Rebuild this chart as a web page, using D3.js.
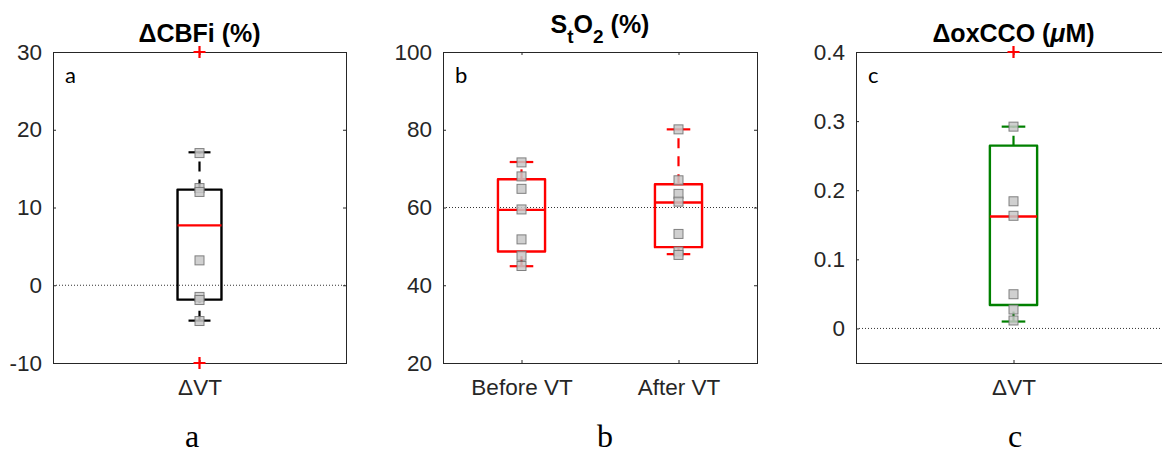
<!DOCTYPE html>
<html>
<head>
<meta charset="utf-8">
<script src="https://cdn.jsdelivr.net/npm/d3@7"></script>
<style>
  html, body { margin: 0; padding: 0; background: #fff; }
  svg { display: block; }
</style>
</head>
<body>
<svg id="chart" width="1162" height="456"></svg>
<script>
// ---------- DATA ----------
// Panel a: ΔCBFi (%)
const aCategories = ["ΔVT"];
const aQ1 = [-1.85];
const aMedian = [7.7];
const aQ3 = [12.3];
const aLowerWhisker = [-4.55];
const aUpperWhisker = [17.1];
const aOutliers = [[30, -10]];
const aPoints = [[17.0, 12.5, 12.0, 3.2, -1.5, -1.9, -4.6]];
const aTicks = [-10, 0, 10, 20, 30];
const aTickLabels = ["-10", "0", "10", "20", "30"];

// Panel b: StO2 (%)
const bCategories = ["Before VT", "After VT"];
const bQ1 = [48.7, 49.8];
const bMedian = [59.4, 61.3];
const bQ3 = [67.25, 66.0];
const bLowerWhisker = [44.9, 48.0];
const bUpperWhisker = [71.7, 80.1];
const bOutliers = [[], []];
const bPoints = [[71.6, 68.0, 64.8, 59.5, 51.8, 47.6, 44.95], [80.1, 67.0, 63.5, 61.5, 53.2, 48.7, 47.8]];
const bTicks = [20, 40, 60, 80, 100];
const bTickLabels = ["20", "40", "60", "80", "100"];

// Panel c: ΔoxCCO (μM)
const cCategories = ["ΔVT"];
const cQ1 = [0.034];
const cMedian = [0.162];
const cQ3 = [0.2645];
const cLowerWhisker = [0.010];
const cUpperWhisker = [0.292];
const cOutliers = [[0.4]];
const cPoints = [[0.292, 0.184, 0.163, 0.0495, 0.0274, 0.0115]];
const cTicks = [0, 0.1, 0.2, 0.3, 0.4];
const cTickLabels = ["0", "0.1", "0.2", "0.3", "0.4"];

// ---------- LAYOUT ----------
const svg = d3.select("#chart");
svg.append("rect").attr("width", 1162).attr("height", 456).attr("fill", "#fff");

const panels = [
  { left: 53, right: 346, top: 52, bottom: 363, domain: [-10, 30], ticks: aTicks, tickLabels: aTickLabels,
    refLine: 0, boxColor: "#000000", medianColor: "#ff0000", boxWidth: 0.15,
    cats: aCategories, q1: aQ1, med: aMedian, q3: aQ3, lw: aLowerWhisker, uw: aUpperWhisker,
    out: aOutliers, pts: aPoints, inner: "a", bottomLabel: "a", bottomX: 192, titleKind: "a" },
  { left: 443, right: 757, top: 52, bottom: 363, domain: [20, 100], ticks: bTicks, tickLabels: bTickLabels,
    refLine: 60, boxColor: "#ff0000", medianColor: "#ff0000", boxWidth: 0.3,
    cats: bCategories, q1: bQ1, med: bMedian, q3: bQ3, lw: bLowerWhisker, uw: bUpperWhisker,
    out: bOutliers, pts: bPoints, inner: "b", bottomLabel: "b", bottomX: 605, titleKind: "b" },
  { left: 856, right: 1171, top: 52, bottom: 363, domain: [-0.05, 0.4], ticks: cTicks, tickLabels: cTickLabels,
    refLine: 0, boxColor: "#008000", medianColor: "#ff0000", boxWidth: 0.15,
    cats: cCategories, q1: cQ1, med: cMedian, q3: cQ3, lw: cLowerWhisker, uw: cUpperWhisker,
    out: cOutliers, pts: cPoints, inner: "c", bottomLabel: "c", bottomX: 1015, titleKind: "c" }
];

const tickFont = "'Liberation Sans', Arial, Helvetica, sans-serif";
const axisColor = "#262626";

panels.forEach(p => {
  const y = d3.scaleLinear().domain(p.domain).range([p.bottom, p.top]);
  const x = d3.scaleLinear().domain([0.5, p.cats.length + 0.5]).range([p.left, p.right]);
  const g = svg.append("g");

  // reference dotted line
  g.append("line")
    .attr("x1", p.left).attr("x2", p.right)
    .attr("y1", y(p.refLine)).attr("y2", y(p.refLine))
    .attr("stroke", "#333").attr("stroke-width", 1).attr("stroke-dasharray", "1,2");

  // axes
  const yAxis = d3.axisLeft(y).tickValues(p.ticks).tickSizeInner(-3).tickSizeOuter(0).tickPadding(11)
    .tickFormat((d, i) => p.tickLabels[i]);
  const ya = g.append("g").attr("transform", `translate(${p.left},0)`).call(yAxis);
  const yr = g.append("g").attr("transform", `translate(${p.right},0)`)
    .call(d3.axisRight(y).tickValues(p.ticks).tickSizeInner(-3).tickSizeOuter(0).tickFormat(""));
  const xAxis = d3.axisBottom(x).tickValues(d3.range(1, p.cats.length + 1)).tickSizeInner(-3).tickSizeOuter(0)
    .tickPadding(16).tickFormat((d, i) => p.cats[i]);
  const xa = g.append("g").attr("transform", `translate(0,${p.bottom})`).call(xAxis);
  const xt = g.append("g").attr("transform", `translate(0,${p.top})`)
    .call(d3.axisTop(x).tickValues(d3.range(1, p.cats.length + 1)).tickSizeInner(-3).tickSizeOuter(0).tickFormat(""));
  [ya, yr, xa, xt].forEach(a => {
    a.select(".domain").remove();
    a.selectAll("line").attr("stroke", axisColor);
    a.selectAll("text").attr("fill", axisColor).style("font-family", tickFont).style("font-size", "22.5px");
  });

  // frame
  g.append("rect")
    .attr("x", p.left + 0.5).attr("y", p.top + 0.5)
    .attr("width", p.right - p.left).attr("height", p.bottom - p.top)
    .attr("fill", "none").attr("stroke", axisColor).attr("stroke-width", 1);

  // boxes
  p.cats.forEach((c, i) => {
    const cx = x(i + 1);
    const hw = (x(1 + p.boxWidth / 2) - x(1));
    const capHw = hw / 2;
    const bg = g.append("g");
    // whiskers (drawn from lower value to higher value, like MATLAB)
    bg.append("line").attr("x1", cx).attr("x2", cx).attr("y1", y(p.q3[i])).attr("y2", y(p.uw[i]))
      .attr("stroke", p.boxColor).attr("stroke-width", 2.2).attr("stroke-dasharray", "10,8");
    bg.append("line").attr("x1", cx).attr("x2", cx).attr("y1", y(p.lw[i])).attr("y2", y(p.q1[i]))
      .attr("stroke", p.boxColor).attr("stroke-width", 2.2).attr("stroke-dasharray", "10,8");
    // caps
    [p.uw[i], p.lw[i]].forEach(v => {
      bg.append("line").attr("x1", cx - capHw).attr("x2", cx + capHw).attr("y1", y(v)).attr("y2", y(v))
        .attr("stroke", p.boxColor).attr("stroke-width", 2.2);
    });
    // box
    bg.append("rect").attr("x", cx - hw).attr("width", 2 * hw)
      .attr("y", y(p.q3[i])).attr("height", y(p.q1[i]) - y(p.q3[i]))
      .attr("fill", "none").attr("stroke", p.boxColor).attr("stroke-width", 2.4)
      .attr("stroke-linejoin", "round");
    // median
    bg.append("line").attr("x1", cx - hw).attr("x2", cx + hw).attr("y1", y(p.med[i])).attr("y2", y(p.med[i]))
      .attr("stroke", p.medianColor).attr("stroke-width", 2.4);
    // points
    bg.selectAll("rect.pt").data(p.pts[i]).enter().append("rect").attr("class", "pt")
      .attr("x", cx - 4.5).attr("y", d => y(d) - 4.5).attr("width", 9).attr("height", 9)
      .attr("fill", "#c8c8c8").attr("fill-opacity", 0.85)
      .attr("stroke", "#6e6e6e").attr("stroke-opacity", 0.85).attr("stroke-width", 1);
    // outliers
    bg.selectAll("path.out").data(p.out[i]).enter().append("path").attr("class", "out")
      .attr("d", d => `M${cx - 6},${y(d)}H${cx + 6}M${cx},${y(d) - 6}V${y(d) + 6}`)
      .attr("stroke", "#ff0000").attr("stroke-width", 2.2);
  });

  // inner panel letter
  g.append("text").attr("x", p.left + 12).attr("y", 83)
    .style("font-family", "Lato, 'Open Sans', sans-serif").style("font-size", "22px")
    .attr("fill", "#000").text(p.inner);

  // bottom label
  svg.append("text").attr("x", p.bottomX).attr("y", 447).attr("text-anchor", "middle")
    .style("font-family", "'Liberation Serif', 'Times New Roman', serif").style("font-size", "32px")
    .attr("fill", "#000").text(p.bottomLabel);

  // titles
  const cxTitle = (p.left + Math.min(p.right, 1171)) / 2;
  const t = svg.append("text").attr("x", cxTitle).attr("text-anchor", "middle")
    .style("font-family", tickFont).style("font-weight", "bold").style("font-size", "25px").attr("fill", "#000");
  if (p.titleKind === "a") {
    t.attr("y", 42).text("ΔCBFi (%)");
  } else if (p.titleKind === "b") {
    t.attr("y", 33);
    t.append("tspan").text("S");
    t.append("tspan").attr("dy", 10).style("font-size", "19px").text("t");
    t.append("tspan").attr("dy", -10).text("O");
    t.append("tspan").attr("dy", 10).style("font-size", "19px").text("2");
    t.append("tspan").attr("dy", -10).text(" (%)");
  } else {
    t.attr("y", 42);
    t.append("tspan").text("ΔoxCCO (");
    t.append("tspan").style("font-style", "italic").text("μ");
    t.append("tspan").text("M)");
  }
});
</script>
</body>
</html>
